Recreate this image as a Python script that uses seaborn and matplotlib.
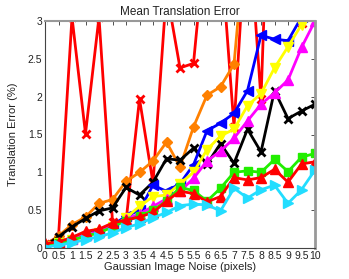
import numpy as np
import pandas as pd
import matplotlib
matplotlib.use("Agg")
import matplotlib.pyplot as plt
import seaborn as sns

sns.set_style("white")
plt.rcParams['font.family'] = ['Liberation Sans', 'DejaVu Sans']

noise = [0, 0.5, 1, 1.5, 2, 2.5, 3, 3.5, 4, 4.5, 5, 5.5, 6, 6.5, 7, 7.5, 8, 8.5, 9, 9.5, 10]

red_x   = [0.05, 0.15, 3.05, 1.51, 3.05, 0.35, 0.35, 1.97, 0.86, 3.4, 2.38, 2.44, 4.3, 4.0, 1.6, 4.5, 1.97, 7.0, 4.0, 2.97, 4.0]
orange  = [0.03, 0.16, 0.31, 0.41, 0.59, 0.64, 0.88, 1.0, 1.15, 1.4, 1.07, 1.6, 2.02, 2.13, 2.43, 4.4, 5.0, 5.5, 6.0, 6.5, 7.0]
black   = [0.03, 0.15, 0.28, 0.39, 0.49, 0.53, 0.8, 0.7, 0.87, 1.18, 1.16, 1.32, 1.11, 1.38, 1.12, 1.57, 1.27, 2.08, 1.71, 1.81, 1.9]
blue    = [0.03, 0.07, 0.12, 0.17, 0.23, 0.3, 0.42, 0.5, 0.83, 0.75, 0.85, 1.1, 1.55, 1.65, 1.78, 2.08, 2.81, 2.76, 2.74, 3.05, 3.5]
yellow  = [0.02, 0.06, 0.1, 0.15, 0.2, 0.28, 0.4, 0.55, 0.68, 0.7, 0.85, 1.0, 1.3, 1.48, 1.57, 1.88, 2.04, 2.38, 2.66, 2.95, 3.3]
magenta = [0.02, 0.07, 0.12, 0.17, 0.22, 0.3, 0.38, 0.45, 0.55, 0.65, 0.75, 0.92, 1.15, 1.28, 1.45, 1.68, 1.9, 2.05, 2.22, 2.65, 3.0]
green   = [0.02, 0.06, 0.1, 0.16, 0.2, 0.28, 0.36, 0.42, 0.5, 0.62, 0.8, 0.76, 0.62, 0.79, 1.0, 1.02, 1.0, 1.17, 1.01, 1.2, 1.25]
red_tri = [0.06, 0.08, 0.14, 0.22, 0.25, 0.33, 0.37, 0.41, 0.47, 0.62, 0.75, 0.72, 0.61, 0.68, 0.93, 0.9, 0.93, 1.04, 0.87, 1.11, 1.14]
cyan    = [0.01, 0.04, 0.07, 0.11, 0.15, 0.2, 0.27, 0.32, 0.4, 0.47, 0.56, 0.58, 0.57, 0.49, 0.79, 0.66, 0.77, 0.83, 0.59, 0.77, 1.03]

series = [
    ("red_x", red_x, "#FF0000", "x"),
    ("orange", orange, "#FF8000", "D"),
    ("black", black, "#000000", "x"),
    ("blue", blue, "#0000FF", "<"),
    ("yellow", yellow, "#FFFF00", "v"),
    ("magenta", magenta, "#FF00FF", "^"),
    ("green", green, "#22EE00", "s"),
    ("red_tri", red_tri, "#FF0000", "^"),
    ("cyan", cyan, "#22DDFF", ">"),
]

fig = plt.figure(figsize=(3.49, 2.79), dpi=100)
ax = fig.add_axes([45/349, 1 - 248/279, 270/349, 227/279])

for name, vals, col, mk in series:
    df = pd.DataFrame({"x": noise, "y": vals})
    ms = 6 if mk in ("x",) else 7
    if mk == "D":
        ms = 5.5
    if mk == "s":
        ms = 5.5
    sns.lineplot(data=df, x="x", y="y", ax=ax, color=col, marker=mk,
                 markersize=ms, markeredgecolor=col, markerfacecolor=col,
                 markeredgewidth=2 if mk == "x" else 1, linewidth=2.0)

ax.set_xlim(0, 10)
ax.set_ylim(0, 3)
ax.set_xticks(noise)
ax.set_xticklabels([("%g" % v) for v in noise])
yt = [0, 0.5, 1, 1.5, 2, 2.5, 3]
ax.set_yticks(yt)
ax.set_yticklabels([("%g" % v) for v in yt])
ax.tick_params(direction="in", length=3, width=0.6, top=True, right=True,
               labelsize=7.5, pad=2, colors="#333333")
ax.tick_params(labelcolor="#222222")
for s in ax.spines.values():
    s.set_visible(True)
    s.set_color("#444444")
    s.set_linewidth(0.8)
ax.spines["right"].set_color("#999999")
ax.spines["right"].set_linewidth(2)
ax.spines["top"].set_color("#999999")
ax.spines["top"].set_linewidth(1.5)
ax.set_xlabel("Gaussian Image Noise (pixels)", fontsize=8, labelpad=1, color="#222222")
ax.set_ylabel("Translation Error (%)", fontsize=8, labelpad=7, color="#222222")
ax.set_title("Mean Translation Error", fontsize=8.5, pad=4, color="#222222")

fig.savefig("out.png", dpi=100)
